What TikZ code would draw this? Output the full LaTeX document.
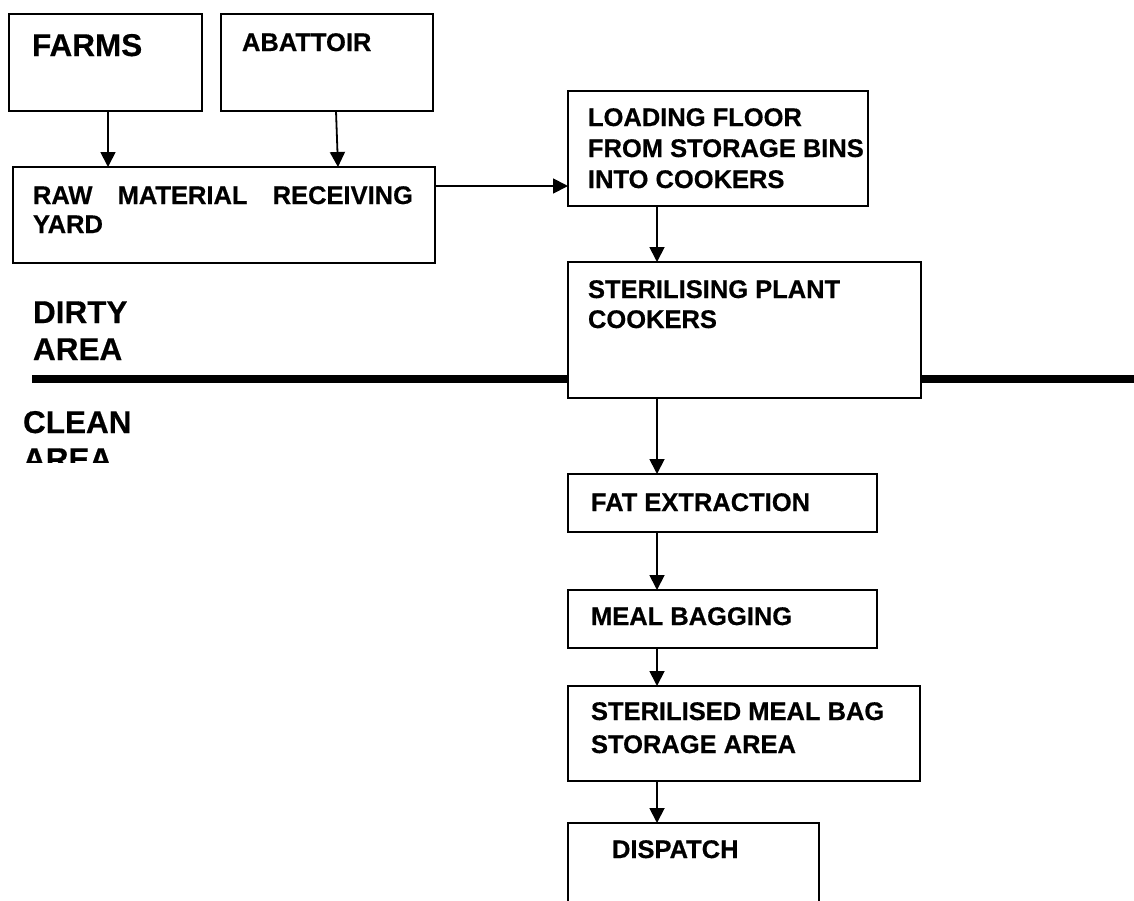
\documentclass[tikz,border=0pt]{standalone}
\usepackage{fontspec}
\setmainfont{Liberation Sans}[BoldFeatures={FakeBold=0.5}]
\usetikzlibrary{arrows.meta}
\newcommand{\lines}[1]{\begin{tabular}[t]{@{}l@{}}#1\end{tabular}}
\begin{document}
\begin{tikzpicture}[x=1pt,y=-1pt,
  box/.style={draw, line width=1.8pt, fill=white, rectangle, anchor=north west,
              inner sep=0pt, outer sep=0pt},
  lbl/.style={anchor=base west, inner sep=0pt, outer sep=0pt,
              font=\fontsize{25.5}{31}\selectfont\bfseries},
  big/.style={lbl, font=\fontsize{31.5}{37}\selectfont\bfseries},
  arr/.style={line width=1.8pt, -{Triangle[length=15pt,width=15pt]}},
  divider/.style={line width=8pt}]

\useasboundingbox (0,0) rectangle (1134,900);
\clip (0,0) rectangle (1134,900);

% boundary between the dirty and the clean side
\coordinate (divL) at (32,379);
\coordinate (divR) at (1134,379);
\draw[divider] (divL) -- (divR);

% boxes
\node[box, minimum width=193pt, minimum height=97pt] (farms) at (9,14) {};
\node[box, minimum width=212pt, minimum height=97pt] (abattoir) at (221,14) {};
\node[box, minimum width=422pt, minimum height=96pt] (raw) at (13,167) {};
\node[box, minimum width=300pt, minimum height=115pt] (loading) at (568,91) {};
\node[box, minimum width=353pt, minimum height=136pt] (steril) at (568,262) {};
\node[box, minimum width=309pt, minimum height=58pt] (fat) at (568,474) {};
\node[box, minimum width=309pt, minimum height=58pt] (meal) at (568,590) {};
\node[box, minimum width=352pt, minimum height=95pt] (store) at (568,686) {};
\node[box, minimum width=251pt, minimum height=120pt] (dispatch) at (568,823) {};

% box texts
\node[big] (tfarms) at (32,56) {FARMS};
\node[lbl] (tabattoir) at (242,51) {ABATTOIR};
\node[lbl, font=\fontsize{25.5}{29}\selectfont\bfseries] (traw) at (33,204)
  {\lines{\hbox to 380pt{RAW\hfill MATERIAL\hfill RECEIVING}\\YARD}};
\node[lbl] (tloading) at (588,126)
  {\lines{LOADING FLOOR\\FROM STORAGE BINS\\INTO COOKERS}};
\node[lbl, font=\fontsize{25.5}{30}\selectfont\bfseries] (tsteril) at (588,298)
  {\lines{STERILISING PLANT\\COOKERS}};
\node[lbl] (tfat) at (591,511) {FAT EXTRACTION};
\node[lbl] (tmeal) at (591,625) {MEAL BAGGING};
\node[lbl, font=\fontsize{25.5}{33}\selectfont\bfseries] (tstore) at (591,720)
  {\lines{STERILISED MEAL BAG\\STORAGE AREA}};
\node[lbl] (tdispatch) at (612,858) {DISPATCH};

% area labels
\node[big] (dirty) at (33,323) {\lines{DIRTY\\AREA}};
\begin{scope}
  \clip (0,390) rectangle (300,462);
  \node[big] (clean) at (23,433) {\lines{CLEAN\\AREA}};
\end{scope}

% connectors
\draw[arr] (farms.south -| 108,0) -- (raw.north -| 108,0);
\draw[arr] (abattoir.south -| 336,0) -- (raw.north -| 338,0);
\draw[arr] (raw.east |- 0,186) -- (loading.west |- 0,186);
\draw[arr] (loading.south -| 657,0) -- (steril.north -| 657,0);
\draw[arr] (steril.south -| 657,0) -- (fat.north -| 657,0);
\draw[arr] (fat.south -| 657,0) -- (meal.north -| 657,0);
\draw[arr] (meal.south -| 657,0) -- (store.north -| 657,0);
\draw[arr] (store.south -| 657,0) -- (dispatch.north -| 657,0);
\end{tikzpicture}
\end{document}
